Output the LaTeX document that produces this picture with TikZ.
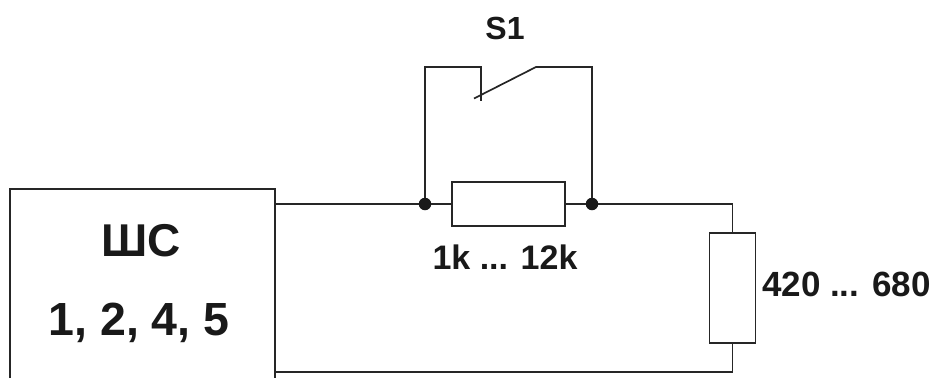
\documentclass[tikz,border=0pt]{standalone}
\usepackage{fontspec}
\setmainfont{Liberation Sans}
\usepackage{tikz}

\begin{document}
\begin{tikzpicture}[
            x=1pt, y=-1pt,
            wire/.style={line width=1.7pt, color=black!85},
            resistor node/.style={rectangle,draw=black!85,line width=1.7pt,fill=white,inner sep=0pt,outer sep=0pt},
            dot node/.style={circle,fill=black!90,inner sep=0pt,outer sep=0pt,minimum size=12.5pt},
            label node/.style={inner sep=0pt,outer sep=0pt,anchor=base,text=black!90,font=\bfseries},
            ]
            \useasboundingbox (0,0) rectangle (935,378);
            
            \coordinate (boxbl) at (10,378);
            \coordinate (boxtl) at (10,189);
            \coordinate (boxtr) at (275,189);
            \coordinate (boxbr) at (275,378);
            \coordinate (out1) at (275,204);
            \coordinate (out2) at (275,372);
            \coordinate (cornertop) at (732.5,204);
            \coordinate (cornerbot) at (732.5,372);
            \coordinate (swleft) at (425,67);
            \coordinate (swmid) at (480.7,67);
            \coordinate (swend) at (480.7,101);
            \coordinate (leverlow) at (474,98.5);
            \coordinate (leverhigh) at (536,67);
            \coordinate (swright) at (592,67);
            
            \node[dot node] (d1) at (425,204) {};
            \node[dot node] (d2) at (592,204) {};
            \node[resistor node, minimum width=113pt, minimum height=44.5pt] (r1) at (508.7,204) {};
            \node[resistor node, minimum width=46pt, minimum height=110.5pt] (r2) at (732.5,288) {};
            
            \node[label node, font=\bfseries\fontsize{46}{46}\selectfont] (shc) at (141,256) {ШС};
            \node[label node, font=\bfseries\fontsize{46.5}{46.5}\selectfont] (nums) at (139,335) {1, 2, 4, 5};
            \node[label node, font=\bfseries\fontsize{32}{32}\selectfont] (s1) at (505,39) {S1};
            \node[label node, font=\bfseries\fontsize{34}{34}\selectfont] (r1val) at (505,269) {1k ... 12k};
            \node[label node, font=\bfseries\fontsize{35}{35}\selectfont] (r2val) at (846.5,296) {420 ... 680};
            
            \draw[wire] (boxbl) -- (boxtl) -- (boxtr) -- (boxbr);
            \draw[wire] (out1) -- (d1) -- (r1) -- (d2) -- (cornertop) -- (r2);
            \draw[wire] (r2) -- (cornerbot) -- (out2);
            \draw[wire] (d1) -- (swleft) -- (swmid) -- (swend);
            \draw[wire] (leverlow) -- (leverhigh) -- (swright) -- (d2);
        \end{tikzpicture}
\end{document}
